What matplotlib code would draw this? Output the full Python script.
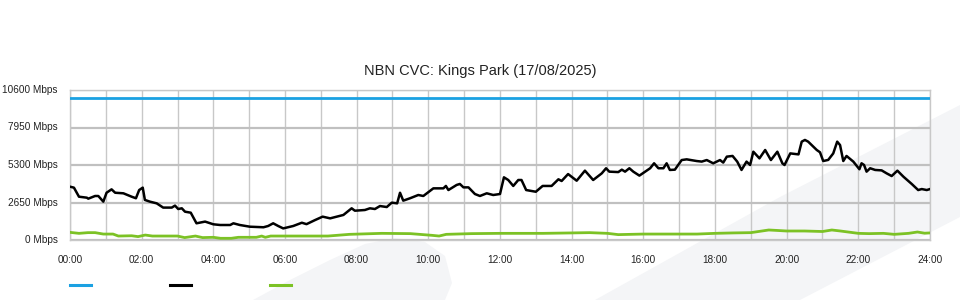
import matplotlib
matplotlib.use("Agg")
import matplotlib.pyplot as plt
from matplotlib.patches import Polygon
from matplotlib.lines import Line2D
import numpy as np

plt.rcParams['font.family'] = ['Liberation Sans', 'DejaVu Sans']

title = "NBN CVC: Kings Park (17/08/2025)"
y_ticks = [0, 2650, 5300, 7950, 10600]
y_labels = ["0 Mbps", "2650 Mbps", "5300 Mbps", "7950 Mbps", "10600 Mbps"]
x_ticks = list(range(0, 25, 2))
x_labels = ["%02d:00" % h for h in x_ticks]

capacity = 10000

traffic_t = [0, 0.11, 0.25, 0.47, 0.51, 0.7, 0.79, 0.93, 1.02, 1.16, 1.26, 1.49, 1.72, 1.84, 1.93, 2.03,
             2.09, 2.23, 2.42, 2.6, 2.84, 2.93, 3.02, 3.12, 3.21, 3.37, 3.53, 3.77, 4.0, 4.19, 4.47, 4.56,
             4.74, 5.02, 5.4, 5.53, 5.67, 5.81, 5.95, 6.23, 6.47, 6.6, 6.84, 7.05, 7.26, 7.63, 7.86, 7.95,
             8.23, 8.37, 8.51, 8.65, 8.84, 8.98, 9.13, 9.21, 9.3, 9.49, 9.72, 9.86, 10.14, 10.42, 10.49,
             10.56, 10.79, 10.88, 10.98, 11.12, 11.3, 11.44, 11.63, 11.81, 12.0, 12.11, 12.23, 12.37,
             12.51, 12.6, 12.73, 13.0, 13.19, 13.44, 13.63, 13.72, 13.9, 14.14, 14.37, 14.6, 14.84, 14.96,
             15.05, 15.3, 15.4, 15.49, 15.61, 15.72, 15.89, 16.05, 16.19, 16.3, 16.42, 16.56, 16.65,
             16.74, 16.88, 17.07, 17.21, 17.49, 17.63, 17.77, 17.95, 18.14, 18.23, 18.33, 18.49, 18.62,
             18.74, 18.88, 18.98, 19.07, 19.24, 19.4, 19.56, 19.74, 19.88, 19.94, 20.1, 20.33, 20.42,
             20.51, 20.6, 20.74, 20.84, 20.93, 21.02, 21.16, 21.3, 21.41, 21.49, 21.58, 21.67, 21.86,
             22.03, 22.09, 22.16, 22.23, 22.33, 22.47, 22.65, 22.79, 22.93, 23.09, 23.26, 23.49, 23.67,
             23.77, 23.91, 24.0]
traffic_v = [3767, 3700, 3060, 2990, 2920, 3110, 3110, 2710, 3340, 3580, 3340, 3300, 3060, 2950, 3530, 3700,
             2830, 2710, 2590, 2290, 2290, 2430, 2190, 2240, 2000, 1930, 1180, 1300, 1110, 1060, 1060, 1180,
             1060, 940, 900, 990, 1180, 990, 820, 990, 1220, 1120, 1410, 1650, 1530, 1770, 2240, 2070,
             2120, 2240, 2190, 2400, 2330, 2640, 2590, 3340, 2780, 2950, 3180, 3110, 3650, 3650, 3820,
             3530, 3890, 3960, 3720, 3720, 3250, 3110, 3300, 3180, 3250, 4430, 4240, 3820,
             4240, 4240, 3530, 3410, 3820, 3820, 4290, 4170, 4660, 4190, 4900, 4240, 4710, 5070,
             4830, 4800, 4970, 4830, 5070, 4830, 4550, 4830, 5070, 5420, 5070, 5070, 5420,
             4950, 4970, 5650, 5700, 5580, 5540, 5650, 5420, 5650, 5470, 5890, 5940, 5540,
             4950, 5540, 5300, 6240, 5770, 6360, 5650, 6240, 5420, 5300, 6120, 6050, 6950,
             7070, 6950, 6600, 6360, 6200, 5580, 5660, 6120, 6950, 6710, 5580, 5940, 5540,
             5000, 5420, 5300, 4830, 5070, 4950, 4920, 4710, 4520, 4900, 4470, 3960, 3530,
             3600, 3530, 3600]

upload_t = [0, 0.25, 0.5, 0.7, 0.93, 1.2, 1.35, 1.72, 1.9, 2.1, 2.3, 3.0, 3.2, 3.5, 3.7, 4.0, 4.2, 4.5,
            4.7, 5.2, 5.35, 5.45, 5.6, 6.5, 7.2, 7.8, 8.7, 9.5, 10.1, 10.3, 10.5, 11.2, 12.0, 13.2, 14.0,
            14.5, 15.0, 15.3, 16.0, 17.0, 17.5, 18.0, 18.5, 19.0, 19.5, 19.7, 20.0, 20.5, 21.0, 21.26,
            21.5, 22.0, 22.3, 22.7, 23.0, 23.4, 23.65, 23.85, 24.0]
upload_v = [540, 470, 520, 520, 420, 420, 280, 300, 240, 350, 280, 280, 170, 280, 170, 190, 120, 120,
            190, 190, 280, 190, 280, 280, 280, 400, 470, 450, 330, 280, 400, 450, 470, 470, 500,
            520, 470, 380, 420, 420, 420, 470, 500, 520, 707, 680, 636, 636, 600, 707,
            636, 470, 450, 470, 400, 470, 565, 480, 500]

W, H = 960, 300
fig = plt.figure(figsize=(W / 100, H / 100), dpi=100)
fig.patch.set_facecolor("white")

def px(pts):
    return [(x / W, 1 - y / H) for x, y in pts]

# faint background watermark (drawn below the axes)
bg = fig.add_axes([0, 0, 1, 1], zorder=-5)
bg.set_xlim(0, 1)
bg.set_ylim(0, 1)
bg.axis("off")
wm_color = "#f4f5f7"
leaf = [(253, 300), (290, 280), (330, 260), (365, 244), (395, 238), (425, 242), (445, 256),
        (452, 283), (445, 300)]
band = [(595, 300), (780, 197), (960, 105), (960, 217), (800, 300)]
for poly in (leaf, band):
    bg.add_patch(Polygon(px(poly), closed=True, facecolor=wm_color, edgecolor="none"))

ax = fig.add_axes([70 / W, 60 / H, 860 / W, 150 / H], zorder=1)
ax.set_facecolor("none")
ax.set_xlim(0, 24)
ax.set_ylim(0, 10600)

for h in range(0, 25):
    ax.axvline(h, color="#c8c8c8", lw=1.0, zorder=1)
for yv in y_ticks:
    ax.axhline(yv, color="#c0c0c0", lw=1.6, zorder=1)

ax.plot([0, 24], [capacity, capacity], color="#1ba1e2", lw=2.0, zorder=3)
ax.plot(traffic_t, traffic_v, color="#000000", lw=1.8, zorder=4)
ax.plot(upload_t, upload_v, color="#7cc225", lw=2.0, zorder=3)

ax.set_xticks(x_ticks)
ax.set_xticklabels(x_labels)
ax.set_yticks(y_ticks)
ax.set_yticklabels(y_labels)
ax.tick_params(axis="both", length=0, labelsize=7.2, colors="#222222")
ax.tick_params(axis="x", pad=11)
ax.tick_params(axis="y", pad=9)
for lbl in ax.get_yticklabels():
    lbl.set_verticalalignment("center")
for s in ax.spines.values():
    s.set_color("#c8c8c8")
    s.set_linewidth(1.0)

fig.text(480 / W, 1 - 71 / H, title, ha="center", va="center", fontsize=10.5, color="#222222")

for x0, c in ((70, "#1ba1e2"), (170, "#000000"), (270, "#7cc225")):
    fig.lines.append(Line2D([x0 / W, (x0 + 21) / W], [1 - 285 / H, 1 - 285 / H],
                            transform=fig.transFigure, color=c, lw=2.2))

fig.savefig("out.png", dpi=100, facecolor="white")
